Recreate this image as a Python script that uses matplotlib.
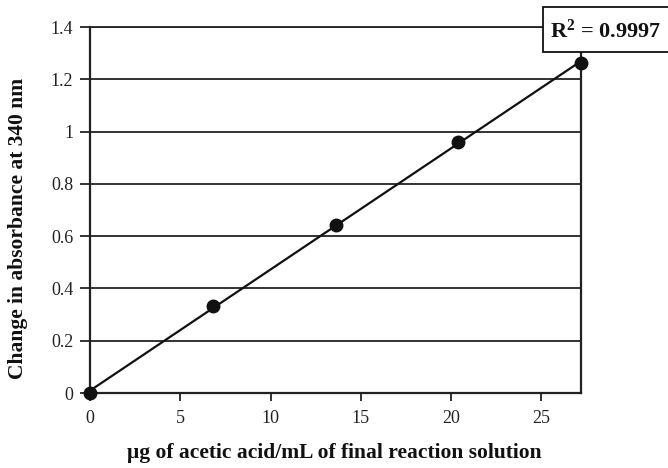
import numpy as np
import matplotlib
matplotlib.use("Agg")
import matplotlib.pyplot as plt
from matplotlib.patches import Rectangle

plt.rcParams['font.family'] = ['Liberation Serif', 'DejaVu Serif']
plt.rcParams['mathtext.fontset'] = 'custom'
plt.rcParams['mathtext.bf'] = 'Liberation Serif:bold'
plt.rcParams['mathtext.rm'] = 'Liberation Serif'

# Data
conc = [0, 6.8, 13.6, 20.4, 27.2]
absorb = [0, 0.333, 0.641, 0.960, 1.262]
x_ticks = [0, 5, 10, 15, 20, 25]
y_ticks = [0, 0.2, 0.4, 0.6, 0.8, 1.0, 1.2, 1.4]
y_ticklabels = ['0', '0.2', '0.4', '0.6', '0.8', '1', '1.2', '1.4']
r2_text = r"$\mathbf{R^2}$" + " = 0.9997"

fig = plt.figure(figsize=(6.68, 4.68), dpi=100)
ax = fig.add_axes([90/668, 1-393/468, (581-90)/668, (393-27)/468])

# gridlines
for yv in y_ticks[1:]:
    ax.axhline(yv, color='#222222', lw=1.3, zorder=1)

coef = np.polyfit(conc, absorb, 1)
xs = np.array([min(conc), max(conc)])
ax.plot(xs, np.polyval(coef, xs), color='#111111', lw=1.6, zorder=2)
ax.plot(conc, absorb, 'o', color='#111111', markersize=9, zorder=3,
        markeredgecolor='#111111', clip_on=False)

ax.set_xlim(0, max(conc))
ax.set_ylim(0, 1.4)
ax.set_xticks(x_ticks)
ax.set_xticklabels([str(v) for v in x_ticks])
ax.set_yticks(y_ticks)
ax.set_yticklabels(y_ticklabels)

for s in ['left', 'bottom', 'right']:
    ax.spines[s].set_linewidth(1.6)
    ax.spines[s].set_color('#222222')
ax.spines['top'].set_linewidth(1.3)
ax.spines['top'].set_color('#222222')

ax.tick_params(axis='y', direction='out', length=7, width=1.3, pad=5,
               labelsize=13, colors='#222222')
ax.tick_params(axis='x', direction='out', length=6, width=1.3, pad=6,
               labelsize=13, colors='#222222')

fig.text(18/668, 1-228/468, 'Change in absorbance at 340 nm', rotation=90,
         ha='center', va='center', fontsize=15.5, fontweight='bold', color='#111111')
fig.text(334/668, 1-453/468, 'μg of acetic acid/mL of final reaction solution',
         ha='center', va='center', fontsize=15.5, fontweight='bold', color='#111111')

# R^2 box
rect = Rectangle((543/668, 1-52/468), 0.3, 45/468, transform=fig.transFigure,
                 facecolor='white', edgecolor='#111111', lw=1.3, zorder=5,
                 clip_on=False)
fig.add_artist(rect)
fig.text(550/668, 1-31/468, r2_text, ha='left', va='center', fontsize=16,
         fontweight='bold', color='#111111', zorder=6)

fig.savefig('out.png', dpi=100)
